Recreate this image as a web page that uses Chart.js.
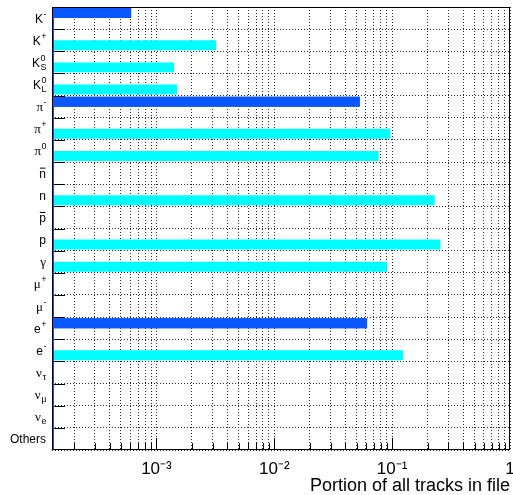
<!DOCTYPE html>
<html>
<head>
<meta charset="utf-8">
<script src="https://cdn.jsdelivr.net/npm/chart.js@4/dist/chart.umd.min.js"></script>
<style>
  html, body { margin: 0; padding: 0; background: #fff; }
  #container { width: 513px; height: 495px; }
</style>
</head>
<body>
<div id="container"><canvas id="myChart" width="513" height="495"></canvas></div>
<script>
// particle names, ROOT style markup
var categories = ['K^{-}', 'K^{+}', 'K^{0}_{S}', 'K^{0}_{L}', '#pi^{-}', '#pi^{+}', '#pi^{0}',
    '#bar{n}', 'n', '#bar{p}', 'p', '#gamma', '#mu^{+}', '#mu^{-}', 'e^{+}', 'e^{-}',
    '#nu_{#tau}', '#nu_{#mu}', '#nu_{e}', 'Others'];

// dark blue bars
var blueValues = [0.00061, 0, 0, 0, 0.0531, 0, 0,
    0, 0, 0, 0, 0, 0, 0, 0.0613, 0,
    0, 0, 0, 0];

// cyan bars
var cyanValues = [0, 0.00321, 0.00141, 0.00150, 0, 0.0967, 0.0769,
    0, 0.230, 0, 0.257, 0.0907, 0, 0, 0, 0.124,
    0, 0, 0, 0];

var xMin = 0.00013;
var xMax = 1;
var xTitle = 'Portion of all tracks in file';

var blueCol = '#0a56ff';
var cyanCol = '#00ffff';
var gridCol = '#2a2a2a';

var greek = { '#pi': 'π', '#gamma': 'γ', '#mu': 'μ', '#nu': 'ν', '#tau': 'τ' };
var supDigits = { '-': '⁻', '0': '⁰', '1': '¹', '2': '²', '3': '³', '4': '⁴', '5': '⁵' };

// split "K^{0}_{S}" into base / sup / sub / bar
function parseLabel(s) {
    for (var k in greek) s = s.split(k).join(greek[k]);
    var out = { base: s, sup: '', sub: '', bar: false };
    var m = s.match(/^#bar\{(.*)\}$/);
    if (m) { out.base = m[1]; out.bar = true; return out; }
    var sp = s.match(/\^\{([^}]*)\}/);
    var sb = s.match(/_\{([^}]*)\}/);
    if (sp) out.sup = sp[1];
    if (sb) out.sub = sb[1];
    out.base = s.replace(/\^\{[^}]*\}/, '').replace(/_\{[^}]*\}/, '');
    return out;
}

function fontFor(txt, size) {
    if (/[α-ω]/.test(txt)) return (size + 1) + 'px "Liberation Serif"';
    return size + 'px "Liberation Sans"';
}

function isDecade(v) {
    var l = Math.log10(v);
    return Math.abs(l - Math.round(l)) < 1e-9;
}

function expLabel(v) {
    var e = Math.round(Math.log10(v));
    if (e == 0) return '1';
    var s = String(e).split('').map(function (c) { return supDigits[c]; }).join('');
    return '10' + s;
}

// draws the y labels, inner tick marks, frame and the blue bars over the grid
var rootStyle = {
    id: 'rootStyle',
    afterDraw: function (chart) {
        var ctx = chart.ctx;
        var area = chart.chartArea;
        var xs = chart.scales.x;
        var ys = chart.scales.y;

        // blue bars sit over the grid
        ctx.save();
        ctx.beginPath();
        ctx.rect(area.left, area.top, area.right - area.left, area.bottom - area.top);
        ctx.clip();
        chart.getDatasetMeta(0).controller.draw();
        ctx.restore();

        ctx.save();
        ctx.strokeStyle = '#000';
        ctx.lineWidth = 1;
        // x ticks inside
        xs.ticks.forEach(function (t) {
            if (t.value <= xMin || t.value >= xMax) return;
            var px = Math.round(xs.getPixelForValue(t.value)) + 0.5;
            var len = isDecade(t.value) ? 12 : 7;
            ctx.beginPath();
            ctx.moveTo(px, area.bottom);
            ctx.lineTo(px, area.bottom - len);
            ctx.stroke();
        });
        // y ticks inside at bin edges
        for (var i = 0; i < categories.length - 1; i++) {
            var py = Math.round(ys.getPixelForValue(i + 0.5)) + 0.5;
            ctx.beginPath();
            ctx.moveTo(area.left, py);
            ctx.lineTo(area.left + 13, py);
            ctx.stroke();
        }
        // frame
        ctx.strokeRect(Math.round(area.left) + 0.5, Math.round(area.top) + 0.5,
            Math.round(area.right - area.left) - 1, Math.round(area.bottom - area.top) - 1);
        ctx.strokeStyle = '#2250c8';
        ctx.beginPath();
        ctx.moveTo(Math.round(area.left) + 1.5, area.top + 1);
        ctx.lineTo(Math.round(area.left) + 1.5, area.bottom - 1);
        ctx.stroke();
        ctx.restore();

        // y labels with sup/sub
        ctx.save();
        ctx.fillStyle = '#000';
        ctx.textBaseline = 'alphabetic';
        ctx.textAlign = 'left';
        var size = 12, small = 9;
        categories.forEach(function (c, i) {
            var p = parseLabel(c);
            var yc = ys.getPixelForValue(i);
            var baseY = yc + 4.5;
            ctx.font = fontFor(p.base, size);
            var wb = ctx.measureText(p.base).width;
            ctx.font = fontFor(p.sup, small);
            var wsup = p.sup ? ctx.measureText(p.sup).width : 0;
            ctx.font = fontFor(p.sub, small);
            var wsub = p.sub ? ctx.measureText(p.sub).width : 0;
            var right = area.left - 6;
            var x0 = right - wb - Math.max(wsup, wsub);
            ctx.font = fontFor(p.base, size);
            ctx.fillText(p.base, x0, baseY);
            if (p.bar) {
                ctx.fillRect(x0 + 0.5, baseY - 10, wb - 1, 1);
            }
            if (p.sup) {
                ctx.font = fontFor(p.sup, small);
                ctx.fillText(p.sup, x0 + wb + 0.5, baseY - 6);
            }
            if (p.sub) {
                ctx.font = fontFor(p.sub, small);
                ctx.fillText(p.sub, x0 + wb + 0.5, baseY + 3);
            }
        });
        ctx.restore();
    }
};

var config = {
    type: 'bar',
    data: {
        labels: categories,
        datasets: [
            { label: 'blue', data: blueValues, backgroundColor: blueCol, borderWidth: 0 },
            { label: 'cyan', data: cyanValues, backgroundColor: cyanCol, borderWidth: 0 }
        ]
    },
    options: {
        indexAxis: 'y',
        responsive: false,
        animation: false,
        devicePixelRatio: 1,
        categoryPercentage: 0.9,
        barPercentage: 1.0,
        layout: { padding: { left: 0, right: 3, top: 7, bottom: 0 } },
        plugins: {
            legend: { display: false },
            tooltip: { enabled: false }
        },
        scales: {
            x: {
                type: 'logarithmic',
                position: 'bottom',
                min: xMin,
                max: xMax,
                z: 1,
                afterBuildTicks: function (scale) {
                    var t = [{ value: xMin }];
                    for (var e = -4; e < 0; e++) {
                        for (var m = 1; m < 10; m++) {
                            var v = m * Math.pow(10, e);
                            if (v > xMin) t.push({ value: v });
                        }
                    }
                    t.push({ value: xMax });
                    scale.ticks = t;
                },
                afterFit: function (scale) {
                    scale.height = 45;
                    scale.paddingLeft = 0;
                    scale.paddingRight = 0;
                },
                grid: { color: gridCol, drawTicks: false, lineWidth: 1 },
                border: { display: false, dash: [1, 2] },
                ticks: {
                    autoSkip: false,
                    maxRotation: 0,
                    padding: 9,
                    color: '#000',
                    font: { family: '"Liberation Sans"', size: 17 },
                    callback: function (v) { return isDecade(v) ? expLabel(v) : ''; }
                },
                title: {
                    display: true,
                    text: xTitle,
                    align: 'end',
                    color: '#000',
                    font: { family: '"Liberation Sans"', size: 18 },
                    padding: { top: 0, bottom: -2 }
                }
            },
            y: {
                type: 'category',
                position: 'left',
                z: 1,
                afterFit: function (scale) { scale.width = 52; },
                grid: { color: gridCol, drawTicks: false, offset: true, lineWidth: 1 },
                border: { display: false, dash: [1, 2] },
                ticks: { display: false }
            }
        }
    },
    plugins: [rootStyle]
};

var myChart = new Chart(document.getElementById('myChart').getContext('2d'), config);
</script>
</body>
</html>
